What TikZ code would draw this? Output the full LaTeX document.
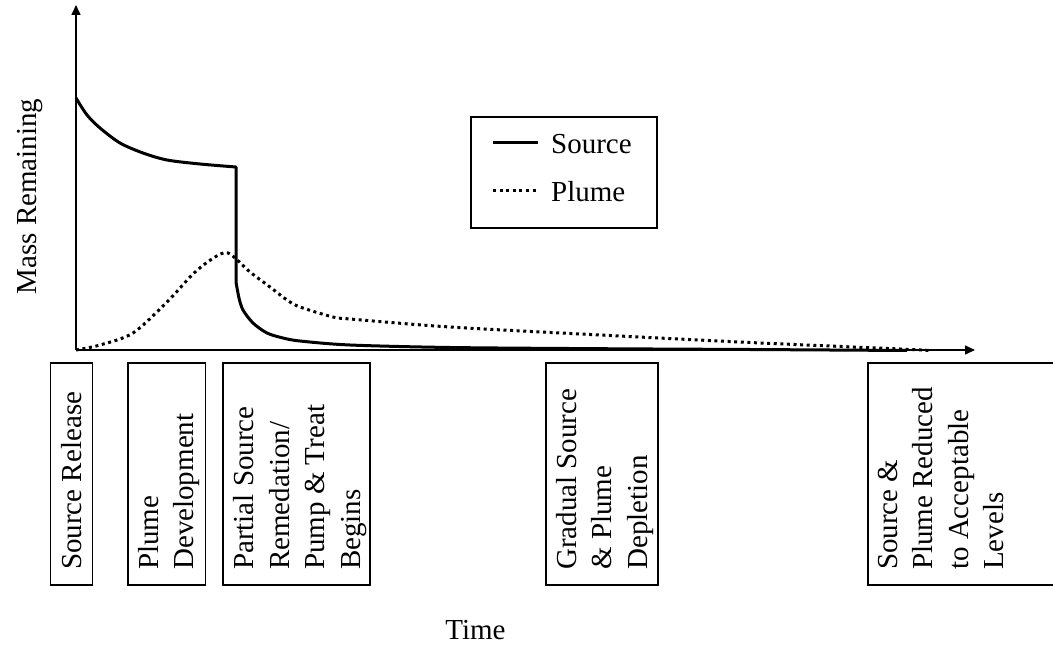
\documentclass[tikz,border=0pt]{standalone}
\usepackage{fontspec}
\setmainfont{Liberation Serif}
\usetikzlibrary{arrows.meta}
\begin{document}
\begin{tikzpicture}[x=1pt,y=-1pt,
  txt/.style={font=\fontsize{29}{35.5}\selectfont},
  phase/.style={txt, rotate=90, align=left, anchor=north west, inner sep=0pt},
  boxline/.style={line width=1.4pt},
  axis/.style={line width=1.5pt, -{Triangle[length=10pt,width=9pt]}},
  src/.style={line width=3pt, line join=round},
  plm/.style={line width=3pt, dash pattern=on 3pt off 3.6pt}]
\clip (0,0) rectangle (1053,650);
\fill[white] (0,0) rectangle (1053,650);
% axes
\coordinate (O) at (76,350);
\coordinate (Ytip) at (76,5);
\coordinate (Xtip) at (975,350);
\draw[axis] (O) -- (Ytip);
\draw[axis] (O) -- (Xtip);
% plume curve
\draw[plm] plot[smooth] coordinates {(76,350) (100,345) (133,333) (167,302) (193,274) (212,259) (228,253) (250,272) (270,287) (287,300) (300,307) (333,317) (350,319) (450,327) (600,335) (750,342.5) (900,349) (930,350.5)};
% source curve
\draw[src] plot[smooth] coordinates {(76,98) (87,115) (100,128) (120,143) (143,153) (167,160) (200,164) (236,167)}
  -- plot[smooth] coordinates {(236,282) (239,298) (243,310) (253,323) (267,333) (283,338) (300,341) (350,345) (450,347.5) (600,348.7) (750,349.5) (907,350.5)};
% axis labels
\node[txt, rotate=90, anchor=base] (ylab) at (36,196.5) {Mass Remaining};
\node[txt, anchor=base] (tlab) at (475.5,639) {Time};
% legend
\draw[boxline] (471,117) rectangle (657,228);
\coordinate (ls1) at (493,143);
\coordinate (ls2) at (538,143);
\coordinate (lp1) at (493,191);
\coordinate (lp2) at (536,191);
\draw[src] (ls1) -- (ls2);
\draw[plm] (lp1) -- (lp2);
\node[txt, anchor=base west, inner sep=0pt] (lsrc) at (551,154) {Source};
\node[txt, anchor=base west, inner sep=0pt] (lplm) at (551,201) {Plume};
% phase boxes
\draw[boxline] (50.7,363) rectangle (92.7,585);
\draw[boxline] (128,363) rectangle (205.7,585);
\draw[boxline] (223,363) rectangle (370,585);
\draw[boxline] (546,363) rectangle (658,585);
\draw[boxline] (868,363) rectangle (1070,585);
\node[phase] (t1) at (61,570) {Source Release};
\node[phase] (t2) at (138,570) {Plume\\Development};
\node[phase] (t3) at (233.5,570) {Partial Source\\Remedation/\\Pump \& Treat\\Begins};
\node[phase] (t4) at (556,570) {Gradual Source\\\& Plume\\Depletion};
\node[phase] (t5) at (878,570) {Source \&\\Plume Reduced\\to Acceptable\\Levels};
\end{tikzpicture}
\end{document}
